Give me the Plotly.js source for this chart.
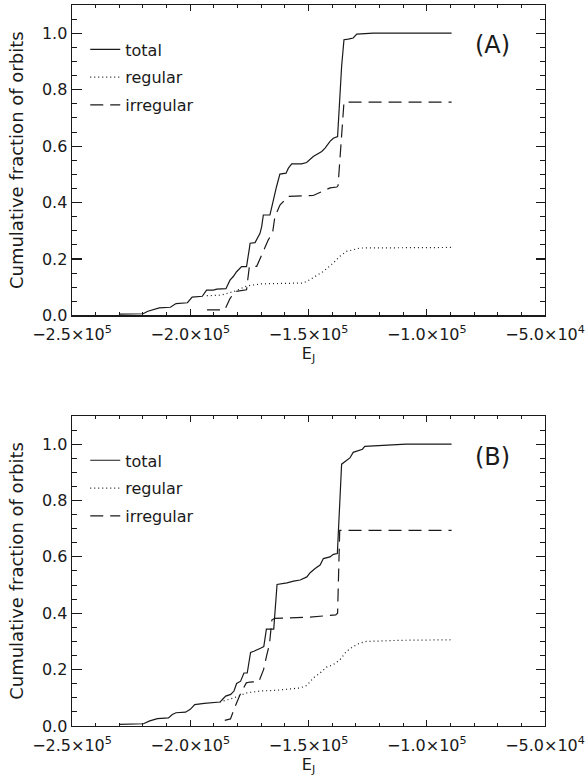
<!DOCTYPE html>
<html>
<head>
<meta charset="utf-8">
<script src="https://cdn.plot.ly/plotly-3.0.1.min.js"></script>
<style>html,body{margin:0;padding:0;background:#fff;}#chart{width:587px;height:781px;}</style>
</head>
<body>
<div id="chart"></div>
<script>
// ---------- Data ----------
// Panel A
const eA_total = [-230000,-220000,-217900,-213100,-208400,-206000,-201200,-199200,-194900,-193100,-190200,-188800,-184900,-183200,-181800,-180400,-178300,-176200,-175000,-174700,-172600,-170500,-169800,-169100,-166300,-164900,-163500,-162100,-159500,-158500,-157100,-152900,-150800,-148000,-145800,-144400,-143000,-140900,-139500,-137700,-136000,-135000,-133200,-131100,-129600,-122600,-89500];
const fA_total = [0.005,0.006,0.015,0.027,0.029,0.042,0.045,0.065,0.068,0.090,0.090,0.093,0.095,0.125,0.138,0.155,0.173,0.173,0.238,0.256,0.258,0.291,0.315,0.356,0.356,0.410,0.457,0.501,0.504,0.522,0.537,0.537,0.542,0.563,0.575,0.581,0.593,0.617,0.628,0.634,0.882,0.977,0.979,0.983,0.997,1.0,1.0];

const eA_regular = [-193000,-187000,-181100,-176000,-169800,-152200,-149400,-143700,-139500,-136700,-133900,-128200,-89500];
const fA_regular = [0.070,0.072,0.086,0.105,0.112,0.115,0.127,0.156,0.186,0.210,0.227,0.239,0.241];

const eA_irregular = [-192900,-185400,-183200,-181000,-176200,-175000,-171900,-168400,-167000,-165200,-164200,-162000,-158500,-148000,-144400,-140900,-138000,-137500,-135000,-89500];
const fA_irregular = [0.020,0.020,0.060,0.085,0.091,0.174,0.174,0.245,0.268,0.292,0.351,0.392,0.422,0.425,0.440,0.452,0.455,0.460,0.756,0.756];

// Panel B
const eB_total = [-230000,-219800,-217100,-213900,-209200,-207600,-206000,-202000,-200000,-198100,-194100,-189900,-187400,-186400,-185000,-182900,-181500,-180400,-178700,-177300,-175900,-174500,-173100,-170300,-168900,-167800,-164700,-163300,-160800,-159100,-156300,-153500,-150700,-149300,-147200,-145100,-143700,-140900,-139500,-137800,-136000,-133900,-132500,-131100,-129700,-127200,-126200,-108700,-89500];
const fB_total = [0.006,0.008,0.018,0.026,0.029,0.041,0.047,0.049,0.059,0.076,0.080,0.082,0.085,0.094,0.106,0.112,0.124,0.151,0.159,0.188,0.188,0.261,0.265,0.276,0.282,0.344,0.344,0.502,0.504,0.508,0.514,0.518,0.529,0.544,0.559,0.571,0.594,0.600,0.609,0.612,0.929,0.944,0.951,0.971,0.974,0.982,0.992,1.0,1.0];

const eB_regular = [-187500,-181500,-175900,-170300,-163300,-153500,-150700,-147900,-145100,-142300,-139500,-136700,-133900,-131100,-128300,-125500,-111500,-89500];
const fB_regular = [0.085,0.100,0.118,0.124,0.127,0.135,0.144,0.171,0.188,0.209,0.218,0.235,0.265,0.282,0.294,0.300,0.304,0.306];

const eB_irregular = [-185400,-183000,-181000,-179000,-176300,-174800,-171000,-169000,-167700,-166500,-165500,-164300,-150000,-138500,-137700,-136800,-89500];
const fB_irregular = [0.020,0.025,0.070,0.110,0.153,0.156,0.157,0.200,0.250,0.290,0.376,0.382,0.386,0.394,0.400,0.694,0.694];

const seriesNames = ['total','regular','irregular'];
const xTickVals = [-250000,-200000,-150000,-100000,-50000];
const xTickText = ['\u22122.5\u00d710<sup>5</sup>','\u22122.0\u00d710<sup>5</sup>','\u22121.5\u00d710<sup>5</sup>','\u22121.0\u00d710<sup>5</sup>','\u22125.0\u00d710<sup>4</sup>'];
const panelLabels = ['(A)','(B)'];
const xTitle = 'E<sub>J</sub>';
const yTitle = 'Cumulative fraction of orbits';

// ---------- Styles ----------
const INK = '#1a1a1a';
const dashes = {total:'solid', regular:'1px,3px', irregular:'13px,7px'};
const FONT = '"DejaVu Sans", sans-serif';

function mk(x, y, name, xa, ya, leg) {
  return {x:x, y:y, name:name, type:'scatter', mode:'lines',
    xaxis:xa, yaxis:ya, legend:leg, legendgroup:leg+name,
    line:{color:INK, width:1.2, dash:dashes[name]}, hoverinfo:'skip'};
}

const traces = [
  mk(eA_total, fA_total, seriesNames[0], 'x', 'y', 'legend'),
  mk(eA_regular, fA_regular, seriesNames[1], 'x', 'y', 'legend'),
  mk(eA_irregular, fA_irregular, seriesNames[2], 'x', 'y', 'legend'),
  mk(eB_total, fB_total, seriesNames[0], 'x2', 'y2', 'legend2'),
  mk(eB_regular, fB_regular, seriesNames[1], 'x2', 'y2', 'legend2'),
  mk(eB_irregular, fB_irregular, seriesNames[2], 'x2', 'y2', 'legend2')
];

function xAxis(anchor) {
  return {anchor:anchor, domain:[0,1], range:[-250000,-50000],
    tickmode:'array', tickvals:xTickVals, ticktext:xTickText,
    ticks:'inside', ticklen:6, tickwidth:1.2, tickcolor:INK,
    minor:{tickmode:'linear', tick0:-250000, dtick:10000, ticks:'inside', ticklen:3, tickwidth:1, tickcolor:INK},
    mirror:'allticks', showline:true, linewidth:1.4, linecolor:INK,
    showgrid:false, zeroline:false, ticklabelstandoff:4,
    tickfont:{family:FONT, size:16, color:INK},
    title:{text:xTitle, font:{family:FONT, size:16, color:INK}, standoff:4}};
}
function yAxis(anchor, dom) {
  return {anchor:anchor, domain:dom, range:[0,1.1],
    tickmode:'linear', tick0:0, dtick:0.2, tickformat:'.1f',
    ticks:'inside', ticklen:9.5, tickwidth:1.2, tickcolor:INK,
    minor:{tickmode:'linear', tick0:0, dtick:0.05, ticks:'inside', ticklen:5, tickwidth:1, tickcolor:INK},
    mirror:'allticks', showline:true, linewidth:1.4, linecolor:INK,
    showgrid:false, zeroline:false, ticklabelstandoff:0,
    tickfont:{family:FONT, size:16, color:INK},
    title:{text:yTitle, font:{family:FONT, size:18, color:INK}, standoff:13}};
}
function leg(y) {
  return {x:0.028, xanchor:'left', y:y, yanchor:'top', bgcolor:'rgba(0,0,0,0)',
    font:{family:FONT, size:16, color:INK}, tracegroupgap:4, itemwidth:30, borderwidth:0};
}

const layout = {
  width:587, height:781,
  margin:{l:72, r:42, t:5, b:55},
  paper_bgcolor:'#fff', plot_bgcolor:'#fff',
  font:{family:FONT, color:INK},
  showlegend:true,
  xaxis:xAxis('y'), yaxis:yAxis('x',[0.5694,1]),
  xaxis2:xAxis('y2'), yaxis2:yAxis('x2',[0,0.43]),
  legend:leg(0.962), legend2:leg(0.392),
  annotations:[
    {text:panelLabels[0], xref:'x domain', yref:'y domain', x:0.89, y:0.871, xanchor:'center', yanchor:'middle', showarrow:false, font:{family:FONT, size:24, color:INK}},
    {text:panelLabels[1], xref:'x2 domain', yref:'y2 domain', x:0.89, y:0.868, xanchor:'center', yanchor:'middle', showarrow:false, font:{family:FONT, size:24, color:INK}}
  ]
};

Plotly.newPlot('chart', traces, layout, {staticPlot:true, displayModeBar:false});
</script>
</body>
</html>
